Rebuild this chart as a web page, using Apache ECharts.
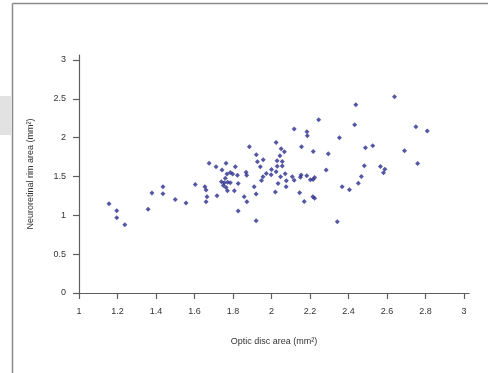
<!DOCTYPE html>
<html>
<head>
<meta charset="utf-8">
<script src="https://cdn.jsdelivr.net/npm/echarts@6/dist/echarts.min.js"></script>
<style>
html,body{margin:0;padding:0;background:#fff;}
#chart{width:488px;height:373px;}
</style>
</head>
<body>
<div id="chart"></div>
<script>
// Optic disc area (mm²)
var discArea = [
1.156,1.196,1.196,1.238,1.359,1.379,1.436,1.436,1.500,1.556,
1.604,1.654,1.660,1.665,1.660,1.676,1.712,1.717,1.743,1.764,
1.769,1.786,1.798,1.812,1.823,1.760,1.740,1.755,1.772,1.786,
1.750,1.764,1.771,1.807,1.827,1.858,1.872,1.827,1.868,1.871,
1.885,1.910,1.920,1.920,1.921,1.927,1.942,1.957,1.948,1.956,
1.973,1.998,2.000,2.020,2.024,2.029,2.030,2.024,2.034,2.044,
2.050,2.056,2.056,2.047,2.067,2.071,2.076,2.077,2.108,2.118,
2.118,2.146,2.154,2.150,2.183,2.202,2.216,2.224,2.184,2.186,
2.156,2.217,2.245,2.295,2.284,2.353,2.170,2.215,2.224,2.342,
2.367,2.405,2.451,2.467,2.438,2.432,2.482,2.488,2.526,2.566,
2.589,2.582,2.639,2.691,2.750,2.809,2.759
];
// Neuroretinal rim area (mm²)
var rimArea = [
1.149,1.059,0.969,0.879,1.077,1.287,1.368,1.278,1.203,1.158,
1.396,1.368,1.326,1.239,1.175,1.669,1.625,1.252,1.583,1.669,
1.532,1.551,1.532,1.625,1.516,1.476,1.432,1.420,1.425,1.420,
1.384,1.358,1.317,1.315,1.409,1.239,1.175,1.055,1.553,1.516,
1.883,1.368,1.274,0.930,1.780,1.689,1.625,1.714,1.448,1.496,
1.538,1.523,1.589,1.300,1.937,1.701,1.632,1.561,1.409,1.767,
1.857,1.692,1.634,1.495,1.819,1.535,1.368,1.445,1.495,1.450,
2.111,1.290,1.519,1.489,1.510,1.459,1.461,1.486,2.076,2.024,
1.883,1.821,2.229,1.793,1.583,1.999,1.178,1.239,1.220,0.918,
1.368,1.328,1.412,1.499,2.422,2.165,1.638,1.870,1.896,1.628,
1.592,1.548,2.526,1.831,2.140,2.085,1.667
];
var xTicks = [1,1.2,1.4,1.6,1.8,2,2.2,2.4,2.6,2.8,3];
var yTicks = [0,0.5,1,1.5,2,2.5,3];
var xTitle = 'Optic disc area (mm²)';
var yTitle = 'Neuroretinal rim area (mm²)';

var points = discArea.map(function(v,i){ return [v, rimArea[i]]; });

var chart = echarts.init(document.getElementById('chart'), null, {renderer:'canvas'});
var fontFam = '"Liberation Sans", Arial, Helvetica, sans-serif';
var axisCol = '#5e5e5e';
chart.setOption({
  animation: false,
  backgroundColor: '#fff',
  grid: {left: 79, top: 55, width: 390, height: 238, containLabel: false},
  graphic: [
    {type:'line', shape:{x1:12.5,y1:3.5,x2:488,y2:3.5}, style:{stroke:'#8a8a8a', lineWidth:1.5}},
    {type:'line', shape:{x1:12.5,y1:3.5,x2:12.5,y2:373}, style:{stroke:'#8a8a8a', lineWidth:1.5}},
    {type:'rect', shape:{x:0,y:96,width:11.5,height:39}, style:{fill:'#e2e2e2'}}
  ],
  xAxis: {
    type: 'value', min: 1, max: 3.026,
    name: xTitle, nameLocation: 'middle', nameGap: 44,
    nameTextStyle: {fontFamily: fontFam, fontSize: 9, color: '#333'},
    axisLine: {show: true, onZero: false, lineStyle: {color: axisCol, width: 1.2}},
    axisTick: {show: true, length: 6, customValues: xTicks, lineStyle: {color: axisCol, width: 1.2}},
    axisLabel: {customValues: xTicks, margin: 14, fontFamily: fontFam, fontSize: 9, color: '#333',
      formatter: function(v){ return String(Math.round(v*10)/10); }},
    splitLine: {show: false}
  },
  yAxis: {
    type: 'value', min: 0, max: 3.064,
    name: yTitle, nameLocation: 'middle', nameGap: 44, nameRotate: 90,
    nameTextStyle: {fontFamily: fontFam, fontSize: 9, color: '#333'},
    axisLine: {show: true, onZero: false, lineStyle: {color: axisCol, width: 1.2}},
    axisTick: {show: true, length: 6, customValues: yTicks, lineStyle: {color: axisCol, width: 1.2}},
    axisLabel: {customValues: yTicks, margin: 13, fontFamily: fontFam, fontSize: 9, color: '#333',
      formatter: function(v){ return String(Math.round(v*10)/10); }},
    splitLine: {show: false}
  },
  series: [{
    type: 'scatter',
    data: points,
    symbol: 'diamond',
    symbolSize: 5,
    itemStyle: {color: '#2b2d8c'}
  }]
});
</script>
</body>
</html>
